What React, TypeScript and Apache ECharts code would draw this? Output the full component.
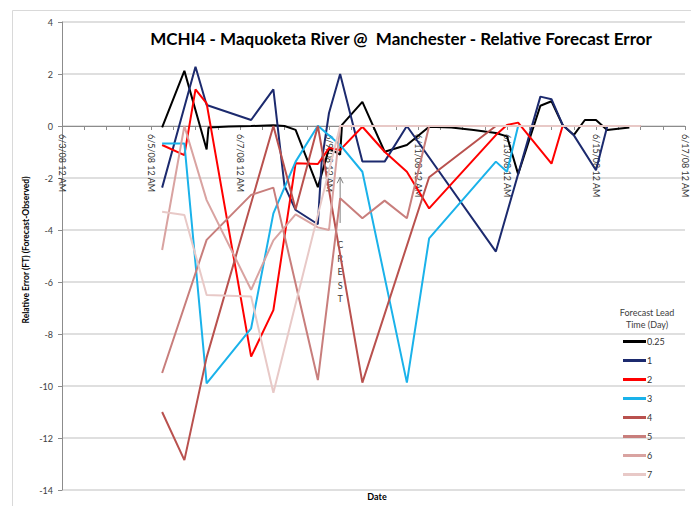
import React, { useEffect, useRef } from 'react';
import * as echarts from 'echarts';

// ---- Data (times are valid times in June 2008, values in feet) ----
const seriesNames = ['0.25', '1', '2', '3', '4', '5', '6', '7'];
const seriesColors = ['#000000', '#1c2a6e', '#ff0000', '#1ab2ea', '#b9514e', '#c87e7c', '#d9a3a1', '#e8c9c7'];

const lead025: [string, number][] = [
  ['6/5 06:00', -0.05], ['6/5 18:00', 2.12], ['6/6 06:00', -0.9], ['6/6 07:00', -0.06],
  ['6/6 18:00', -0.02], ['6/7 06:00', 0.0], ['6/7 18:00', 0.03], ['6/8 00:00', 0.0],
  ['6/8 06:00', -0.15], ['6/8 18:00', -2.35], ['6/9 00:00', -0.86], ['6/9 06:00', -1.1],
  ['6/9 07:00', 0.04], ['6/9 18:00', 0.93], ['6/10 06:00', -0.99], ['6/10 18:00', -0.73],
  ['6/11 06:00', -0.03], ['6/11 18:00', -0.06], ['6/12 06:00', -0.15], ['6/12 18:00', -0.27],
  ['6/13 00:00', -0.4], ['6/13 06:00', -1.85], ['6/13 18:00', 0.78], ['6/14 00:00', 0.95],
  ['6/14 06:00', 0.04], ['6/14 12:00', -0.35], ['6/14 18:00', 0.23], ['6/15 00:00', 0.23],
  ['6/15 06:00', -0.15], ['6/15 18:00', -0.06],
];
const lead1: [string, number][] = [
  ['6/5 06:00', -2.37], ['6/6 00:00', 2.28], ['6/6 06:00', 0.81], ['6/7 06:00', 0.23],
  ['6/7 18:00', 1.41], ['6/8 00:00', -2.3], ['6/8 06:00', -3.23], ['6/8 18:00', -3.78],
  ['6/8 20:00', -1.4], ['6/9 00:00', 0.5], ['6/9 06:00', 2.0], ['6/9 18:00', -1.37],
  ['6/10 06:00', -1.37], ['6/10 18:00', 0.0], ['6/12 18:00', -4.83], ['6/13 18:00', 1.13],
  ['6/14 00:00', 1.03], ['6/14 06:00', 0.04], ['6/14 12:00', -0.35], ['6/15 00:00', -1.7],
  ['6/15 06:00', -0.03],
];
const lead2: [string, number][] = [
  ['6/5 06:00', -0.73], ['6/5 18:00', -1.12], ['6/6 00:00', 1.41], ['6/6 06:00', 0.87],
  ['6/7 06:00', -8.87], ['6/7 18:00', -7.08], ['6/8 06:00', -1.43], ['6/8 18:00', -1.46],
  ['6/9 00:00', -0.85], ['6/9 06:00', -0.92], ['6/9 18:00', -0.03], ['6/10 06:00', -0.99],
  ['6/10 18:00', -1.76], ['6/11 06:00', -3.17], ['6/12 18:00', -0.35], ['6/13 00:00', 0.04],
  ['6/13 06:00', 0.13], ['6/14 00:00', -1.45], ['6/14 06:00', 0.0],
];
const lead3: [string, number][] = [
  ['6/5 06:00', -0.67], ['6/5 18:00', -0.67], ['6/6 06:00', -9.9], ['6/7 06:00', -7.78],
  ['6/7 18:00', -3.36], ['6/8 06:00', -1.37], ['6/8 18:00', 0.01], ['6/9 06:00', -0.73],
  ['6/9 18:00', -1.76], ['6/10 18:00', -9.87], ['6/11 06:00', -4.32], ['6/12 18:00', -1.37],
  ['6/13 00:00', -1.76], ['6/13 06:00', 0.0],
];
const lead4: [string, number][] = [
  ['6/5 06:00', -11.0], ['6/5 18:00', -12.85], ['6/6 06:00', -8.9], ['6/7 18:00', 0.0],
  ['6/8 06:00', -3.2], ['6/8 18:00', 0.0], ['6/9 18:00', -9.87], ['6/11 06:00', -1.97],
  ['6/12 18:00', 0.0],
];
const lead5: [string, number][] = [
  ['6/5 06:00', -9.5], ['6/6 06:00', -4.38], ['6/7 06:00', -2.65], ['6/7 18:00', -2.37],
  ['6/8 18:00', -9.77], ['6/9 06:00', -2.78], ['6/9 18:00', -3.55], ['6/10 06:00', -2.87],
  ['6/10 18:00', -3.55], ['6/11 06:00', 0.0], ['6/16 00:00', 0.0],
];
const lead6: [string, number][] = [
  ['6/5 06:00', -4.77], ['6/5 18:00', 0.0], ['6/6 06:00', -2.85], ['6/7 06:00', -6.3],
  ['6/7 18:00', -4.4], ['6/8 06:00', -3.4], ['6/8 18:00', -3.9], ['6/9 00:00', -4.0],
  ['6/9 06:00', 0.0], ['6/16 00:00', 0.0],
];
const lead7: [string, number][] = [
  ['6/5 06:00', -3.3], ['6/5 18:00', -3.42], ['6/6 06:00', -6.5], ['6/7 06:00', -6.56],
  ['6/7 18:00', -10.26], ['6/9 06:00', 0.0], ['6/16 00:00', 0.0],
];
const allSeries = [lead025, lead1, lead2, lead3, lead4, lead5, lead6, lead7];

const yTicks = { min: -14, max: 4, interval: 2 };
const xRangeDays = { min: 0, max: 14, interval: 2 }; // days after 6/3/08 12 AM
const crestTime = '6/9 06:00';
const crestArrow = [-3.73, -1.97];
const crestTextTop = -4.3;

const T0 = Date.UTC(2008, 5, 3, 0, 0);
const toDay = (s: string) => {
  const [md, hm] = s.split(' ');
  const [m, d] = md.split('/').map(Number);
  const [h, mi] = hm.split(':').map(Number);
  return (Date.UTC(2008, m - 1, d, h, mi) - T0) / 86400000;
};
const dayLabel = (v: number) => {
  const dt = new Date(T0 + v * 86400000);
  return `${dt.getUTCMonth() + 1}/${dt.getUTCDate()}/08 12 AM`;
};

const FONT = 'Lato, "Liberation Sans", sans-serif';
const GRID = { left: 62, top: 22, width: 623, height: 468 };
// x axis sits on the zero line: shift it up from the grid bottom by the zero's distance
const zeroOffset = -((0 - yTicks.min) / (yTicks.max - yTicks.min)) * GRID.height;

export default function App() {
  const ref = useRef<HTMLDivElement>(null);
  useEffect(() => {
    if (!ref.current) return;
    const chart = echarts.init(ref.current, undefined, { renderer: 'svg' });
    chart.setOption({
      animation: false,
      textStyle: { fontFamily: FONT },
      grid: { ...GRID, containLabel: false, outerBoundsMode: 'none' },
      xAxis: {
        type: 'value',
        position: 'bottom',
        offset: zeroOffset,
        min: xRangeDays.min,
        max: xRangeDays.max,
        interval: xRangeDays.interval,
        axisLine: { onZero: false, lineStyle: { color: '#8c8c8c', width: 1 } },
        axisTick: { show: true, length: 4, lineStyle: { color: '#8c8c8c' } },
        minorTick: { show: true, splitNumber: 4, length: 4, lineStyle: { color: '#8c8c8c' } },
        axisLabel: {
          rotate: -90, fontSize: 9, color: '#333', margin: 8, fontFamily: FONT,
          formatter: (v: number) => dayLabel(v),
        },
        splitLine: { show: false },
      },
      yAxis: {
        type: 'value',
        min: yTicks.min,
        max: yTicks.max,
        interval: yTicks.interval,
        axisLine: { show: true, onZero: false, lineStyle: { color: '#8c8c8c', width: 1 } },
        axisTick: { show: true, length: 4, lineStyle: { color: '#8c8c8c' } },
        axisLabel: { fontSize: 9, color: '#404040', margin: 9, fontFamily: FONT },
        splitLine: { show: true, lineStyle: { color: '#d4d4d4', width: 1.5 } },
      },
      legend: {
        orient: 'vertical',
        left: 623,
        top: 337,
        icon: 'rect',
        itemWidth: 23,
        itemHeight: 3,
        itemGap: 10,
        padding: 0,
        textStyle: { fontSize: 9, color: '#333', fontFamily: FONT, padding: [0, 0, 0, -4] },
        data: seriesNames,
      },
      series: allSeries.map((s, i) => ({
        name: seriesNames[i],
        type: 'line',
        symbol: 'none',
        showSymbol: false,
        color: seriesColors[i],
        lineStyle: { width: 2, color: seriesColors[i] },
        data: s.map(([t, v]) => [toDay(t), v]),
        z: 2 + i,
      })),
    });

    const cx = toDay(crestTime);
    const pTop = chart.convertToPixel({ gridIndex: 0 }, [cx, crestArrow[1]]) as number[];
    const pBot = chart.convertToPixel({ gridIndex: 0 }, [cx, crestArrow[0]]) as number[];
    const pTxt = chart.convertToPixel({ gridIndex: 0 }, [cx, crestTextTop]) as number[];

    chart.setOption({
      graphic: [
        {
          type: 'rect', silent: true, z: -10,
          shape: { x: 12.5, y: 10.5, width: 720, height: 540 },
          style: { fill: 'none', stroke: '#d9d9d9', lineWidth: 1 },
        },
        {
          type: 'text', silent: true, x: 401, y: 38,
          style: {
            text: 'MCHI4 - Maquoketa River @  Manchester - Relative Forecast Error',
            font: `bold 17px ${FONT}`, fill: '#000', align: 'center', verticalAlign: 'middle',
          },
        },
        {
          type: 'text', silent: true, x: 26, y: 250, rotation: Math.PI / 2,
          style: {
            text: 'Relative Error (FT) (Forecast-Observed)', font: `bold 8.5px ${FONT}`,
            fill: '#000', align: 'center', verticalAlign: 'middle',
          },
        },
        {
          type: 'text', silent: true, x: 377, y: 496,
          style: { text: 'Date', font: `bold 9px ${FONT}`, fill: '#000', align: 'center', verticalAlign: 'middle' },
        },
        {
          type: 'text', silent: true, x: 647, y: 318,
          style: {
            text: 'Forecast Lead\nTime (Day)', font: `9px ${FONT}`, fill: '#404040',
            align: 'center', verticalAlign: 'middle', lineHeight: 12,
          },
        },
        {
          type: 'line', silent: true,
          shape: { x1: pBot[0], y1: pBot[1], x2: pTop[0], y2: pTop[1] },
          style: { stroke: '#808080', lineWidth: 1 },
        },
        {
          type: 'polyline', silent: true,
          shape: { points: [[pTop[0] - 3, pTop[1] + 6], [pTop[0], pTop[1]], [pTop[0] + 3, pTop[1] + 6]] },
          style: { stroke: '#808080', lineWidth: 1, fill: 'none' },
        },
        {
          type: 'text', silent: true, x: pTxt[0], y: pTxt[1],
          style: {
            text: 'C\nR\nE\nS\nT', font: `9px ${FONT}`, fill: '#404040',
            align: 'center', verticalAlign: 'top', lineHeight: 13.5,
          },
        },
      ],
    });
    return () => chart.dispose();
  }, []);
  return <div ref={ref} style={{ position: 'absolute', left: 0, top: 0, width: 691, height: 506 }} />;
}
